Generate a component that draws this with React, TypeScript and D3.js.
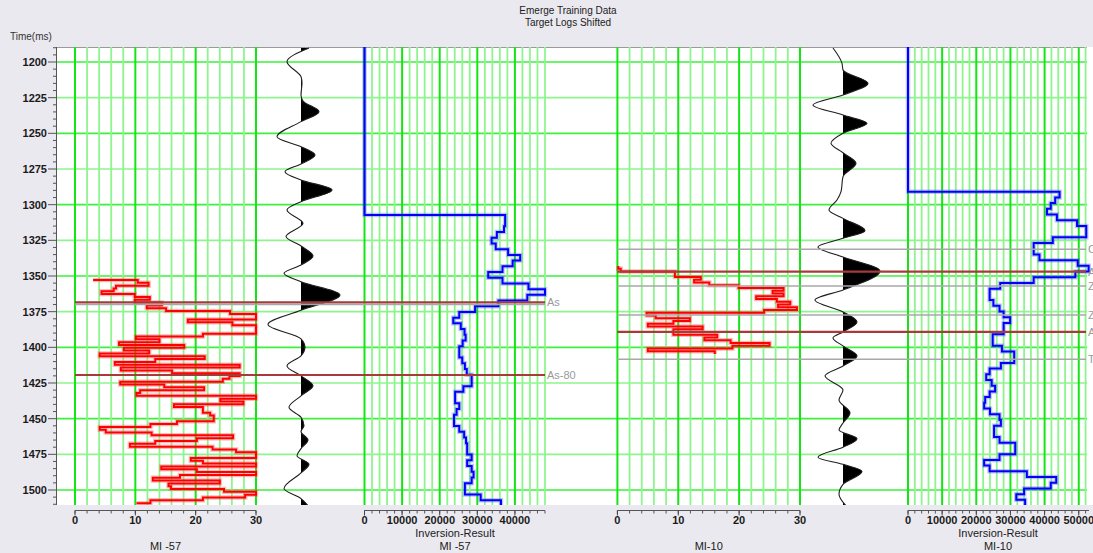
import * as d3 from 'd3';

const W = 1093;
const H = 553;
const FONT = "'Liberation Sans', Arial, sans-serif";

const TITLE_LINES = ['Emerge Training Data', 'Target Logs Shifted'];
const TIME_TICKS = [1200, 1225, 1250, 1275, 1300, 1325, 1350, 1375, 1400, 1425, 1450, 1475, 1500];
const LOG_TICKS = [0, 10, 20, 30];
const INV57_TICKS = [0, 10000, 20000, 30000, 40000];
const INV10_TICKS = [0, 10000, 20000, 30000, 40000, 50000];

// MI -57 log (2 ms samples), first/last values are the entry/exit jumps
const LOG57_START = 1352.8;
const LOG57_DT = 1.98;
const LOG57_ENTRY = 3.0;
const LOG57_EXIT = 10.2;
const LOG57 = [
  10.4, 12.2, 6.8, 6.4, 4.4, 9.9, 12.4, 9.9, 14.4, 11.9, 15.1, 25.7, 30, 30, 18.7, 26.1, 30, 30, 30,
  21.2, 10.1, 14.0, 7.3, 18.1, 8.1, 12.3, 4.1, 21.5, 13.3, 6.6, 27.3, 7.6, 16.1, 27.3, 25.6, 24.5,
  7.5, 14.8, 21.4, 10.8, 10.2, 30, 24.1, 27.9, 16.4, 21.2, 21.2, 22.4, 23.0, 23.0, 16.9, 12.5, 4.1,
  5.1, 12.7, 26.2, 20.2, 13.3, 9.1, 22.8, 26.7, 30, 30, 19.2, 21.2, 30, 14.3, 20.2, 30, 17.4, 12.9,
  24.0, 15.5, 15.9, 24.7, 30, 28.2, 21.2, 12.5,
];

// MI-10 log
const LOG10_START = 1343.0;
const LOG10_DT = 1.93;
const LOG10 = [
  0.15, 0.55, 9.45, 9.45, 13.7, 12.6, 15.1, 19.9, 27.3, 25.5, 27.3, 22.8, 26.2, 28.4, 26.4, 29.5,
  24.1, 4.8, 6.3, 11.9, 9.2, 5.0, 14.0, 9.2, 9.2, 16.4, 14.3, 18.6, 25.0, 18.9, 5.0, 16.0,
];

// Inversion results (thousands), 4 ms samples, zero above the start
const INV57_START = 1307.2;
const INV10_START = 1290.9;
const INV_DT = 4;
const INV57 = [
  37.4, 37.4, 37.1, 35.2, 33.8, 34.9, 38.2, 41.4, 39.4, 36.7, 32.9, 36.7, 43.6, 48.0, 43.3, 35.6,
  29.4, 25.2, 23.6, 25.6, 26.6, 26.9, 26.1, 25.2, 25.2, 26.0, 26.7, 27.2, 28.5, 28.5, 26.3, 24.1,
  24.1, 25.2, 24.5, 23.8, 23.8, 25.2, 26.5, 27.0, 27.3, 27.3, 28.5, 27.3, 28.5, 29.0, 28.5, 26.7,
  26.7, 30.9, 36.3,
];
const INV10 = [
  44.4, 43.1, 41.8, 40.7, 43.6, 49.5, 52.2, 52.2, 42.4, 36.8, 36.8, 38.5, 49.7, 52.9, 49.0, 36.8,
  27.0, 23.9, 23.9, 25.0, 26.8, 28.0, 29.9, 28.0, 28.0, 24.8, 24.8, 27.5, 31.1, 31.1, 27.2, 23.9,
  22.9, 24.5, 25.5, 23.9, 22.6, 22.3, 24.0, 26.8, 27.2, 25.2, 25.2, 26.8, 31.4, 31.4, 26.8, 22.3,
  23.9, 34.8, 43.4, 41.8, 34.0, 31.7, 34.3,
];

// seismic traces: time (ms) / amplitude
const TRACE57_T = [
  1190.2, 1199.8, 1210.3, 1214.7, 1223.1, 1227.3, 1234.8, 1241.8, 1252.4, 1259.4, 1265.2, 1271.5,
  1276.9, 1282.7, 1289.7, 1297.9, 1303.7, 1313.1, 1322.4, 1329, 1336, 1342.3, 1348.1, 1354, 1363.3,
  1374, 1384, 1394, 1400, 1406, 1413, 1420, 1427, 1434, 1442, 1449, 1455, 1459, 1465, 1471, 1476,
  1482, 1488, 1499, 1506, 1511,
];
const TRACE57_A = [
  8, -14, 0, 1, 0, 2, 18, 0, -24, 0, 14, 0, -16, 0, 31, 0, -14, 2, -15, 0, 12, 0, -17, 0, 39, 0, -33,
  0, 4, 0, -14, 0, 12, 0, -12, 0, 3, 0, 7, 0, -4, 8, 0, -17, 0, 7,
];
const TRACE10_T = [
  1190.2, 1200.9, 1205.6, 1214.9, 1223.1, 1230.1, 1237.1, 1243, 1250, 1257, 1263.6, 1271, 1280.4,
  1290.9, 1296.7, 1303.7, 1309.6, 1318.2, 1323.6, 1329.7, 1336.7, 1346.5, 1359.8, 1366.8, 1375.2,
  1382.2, 1389.2, 1393.4, 1399, 1406, 1413.1, 1420, 1429.9, 1437, 1446, 1453, 1458, 1464, 1470,
  1477, 1482, 1487, 1496, 1503, 1511,
];
const TRACE10_A = [
  -10, -1, 0, 25, 0, -30, 0, 24, 0, -12, 0, 13, 0, -2, -6, -14, 0, 22, 0, -25, 0, 37, 0, -28, 0, 14,
  0, -10, 0, 14, 0, -18, 0, -4, 7, 0, -4, 14, 0, -25, 0, 19, 0, -4, 3,
];

// horizons
const HOR57_NAMES = ['As', '', 'As-80'];
const HOR57_T = [1368.5, 1369.9, 1419.4];
const HOR57_KIND = ['red', 'gray', 'red'];
const HOR10_NAMES = ['C', 'A', 'Z', 'Z', 'A', 'T'];
const HOR10_T = [1331.3, 1347.0, 1357.0, 1377.3, 1389.2, 1408.4];
const HOR10_KIND = ['gray', 'red', 'gray', 'gray', 'red', 'gray'];

const PLOT = { left: 57, right: 1087, top: 47, bottom: 505 };
const y = d3.scaleLinear().domain([1200, 1500]).range([62, 490]);
const tTop = y.invert(PLOT.top);

const xLog57 = d3.scaleLinear().domain([0, 30]).range([75, 256]);
const xSeis57 = d3.scaleLinear().domain([-40, 40]).range([261, 341]);
const xInv57 = d3.scaleLinear().domain([0, 48]).range([364.5, 545]);
const xLog10 = d3.scaleLinear().domain([0, 30]).range([617.4, 800]);
const xSeis10 = d3.scaleLinear().domain([-40, 40]).range([803, 883]);
const xInv10 = d3.scaleLinear().domain([0, 53]).range([908, 1089]);

const stepLine = (xs: d3.ScaleLinear<number, number>) =>
  d3.line<[number, number]>().x((d) => xs(d[0])).y((d) => y(d[1])).curve(d3.curveStepBefore);

function samples(vals: number[], start: number, dt: number): [number, number][] {
  const pts: [number, number][] = vals.map((v, i) => [v, start + i * dt]);
  pts.push([vals[vals.length - 1], start + vals.length * dt]);
  return pts;
}

function VGrid({ xs, max, minor, major }: { xs: d3.ScaleLinear<number, number>; max: number; minor: number; major: number }) {
  return (
    <g>
      {d3.range(0, max + 1e-6, minor).map((v) => {
        const isMajor = Math.abs(v % major) < 1e-6;
        return (
          <line key={v} x1={xs(v)} x2={xs(v)} y1={PLOT.top} y2={PLOT.bottom}
            stroke={isMajor ? '#14e614' : '#8ef58e'} strokeWidth={isMajor ? 2 : 1.8} />
        );
      })}
    </g>
  );
}

function BottomAxis({ xs, ticks, minor, unit, lines, cx }:
  { xs: d3.ScaleLinear<number, number>; ticks: number[]; minor: number; unit: number; lines: string[]; cx: number }) {
  const [d0, d1] = xs.domain();
  const ay = 510.5;
  return (
    <g fontFamily={FONT} fill="#1a1a1a">
      <line x1={xs(d0)} x2={xs(d1)} y1={ay} y2={ay} stroke="#555" strokeWidth={1} />
      {d3.range(d0, d1 + 1e-6, minor).map((v) => (
        <line key={v} x1={xs(v)} x2={xs(v)} y1={ay} y2={ay + 3} stroke="#555" />
      ))}
      {ticks.map((t) => (
        <g key={t}>
          <line x1={xs(t / unit)} x2={xs(t / unit)} y1={ay} y2={ay + 5} stroke="#444" />
          <text x={xs(t / unit)} y={524} textAnchor="middle" fontSize={11} fontWeight="bold">{t}</text>
        </g>
      ))}
      {lines.map((s, i) => (
        <text key={i} x={cx} y={lines.length === 2 ? 536.5 + i * 13 : 549.5} textAnchor="middle" fontSize={11}>{s}</text>
      ))}
    </g>
  );
}

function Trace({ xs, times, amps, id }: { xs: d3.ScaleLinear<number, number>; times: number[]; amps: number[]; id: string }) {
  const pts: [number, number][] = times.map((t, i) => [t, amps[i]]);
  const line = d3.line<[number, number]>().x((d) => xs(d[1])).y((d) => y(d[0])).curve(d3.curveMonotoneY);
  const area = d3.area<[number, number]>().y((d) => y(d[0])).x0(xs(0)).x1((d) => xs(d[1])).curve(d3.curveMonotoneY);
  return (
    <g>
      <clipPath id={id}>
        <rect x={xs(0)} y={PLOT.top} width={80} height={PLOT.bottom - PLOT.top} />
      </clipPath>
      <path d={area(pts)!} fill="#000" clipPath={`url(#${id})`} />
      <path d={line(pts)!} fill="none" stroke="#1e1e1e" strokeWidth={1.1} />
    </g>
  );
}

function StepCurve({ d, color, halo }: { d: string; color: string; halo: string }) {
  return (
    <g fill="none" strokeLinejoin="miter">
      <path d={d} stroke={halo} strokeWidth={4.5} />
      <path d={d} stroke={color} strokeWidth={2} />
    </g>
  );
}

function Horizons({ names, times, kinds, x0, x1 }: { names: string[]; times: number[]; kinds: string[]; x0: number; x1: number }) {
  return (
    <g>
      {times.map((t, i) => (
        <line key={i} x1={x0} x2={x1} y1={y(t)} y2={y(t)}
          stroke={kinds[i] === 'red' ? '#a83a3a' : '#a8a8a8'} strokeWidth={kinds[i] === 'red' ? 2.2 : 1.6} />
      ))}
      {names.map((n, i) => n && (
        <text key={`l${i}`} x={x1 + 2} y={y(times[i]) + 4} fontSize={11} fontFamily={FONT} fill="#9a9a9a">{n}</text>
      ))}
    </g>
  );
}

export default function App() {
  const log57 = stepLine(xLog57)([[LOG57_ENTRY, LOG57_START], ...samples(LOG57, LOG57_START, LOG57_DT),
    [LOG57_EXIT, LOG57_START + LOG57.length * LOG57_DT]])!;
  const log10 = stepLine(xLog10)(samples(LOG10, LOG10_START, LOG10_DT))!;
  const inv57 = stepLine(xInv57)([[0, tTop], ...samples(INV57, INV57_START, INV_DT)])!;
  const inv10 = stepLine(xInv10)([[0, tTop], ...samples(INV10, INV10_START, INV_DT)])!;

  const minorTimes = d3.range(1190, 1511, 5);

  return (
    <svg width={W} height={H} style={{ position: 'absolute', left: 0, top: 0 }} fontFamily={FONT}>
      <defs>
        <clipPath id="plotclip">
          <rect x={PLOT.left} y={PLOT.top} width={W - PLOT.left} height={PLOT.bottom - PLOT.top} />
        </clipPath>
      </defs>
      <rect width={W} height={H} fill="#eae9ef" />
      <rect x={PLOT.left} y={PLOT.top} width={W - PLOT.left} height={PLOT.bottom - PLOT.top} fill="#fff" />
      <line x1={PLOT.left} x2={PLOT.right} y1={PLOT.top + 0.5} y2={PLOT.top + 0.5} stroke="#9a9a9a" />

      {TITLE_LINES.map((s, i) => (
        <text key={s} x={568} y={14 + i * 12} textAnchor="middle" fontSize={10} fill="#222">{s}</text>
      ))}
      <text x={10} y={40} fontSize={10} fill="#333">Time(ms)</text>

      {/* grids */}
      <g>
        {TIME_TICKS.map((t) => (
          <line key={t} x1={PLOT.left} x2={PLOT.right} y1={y(t)} y2={y(t)}
            stroke={t % 50 === 0 ? '#3cf03c' : '#8ef58e'} strokeWidth={1.6} />
        ))}
      </g>
      <VGrid xs={xLog57} max={30} minor={2} major={10} />
      <VGrid xs={xInv57} max={48} minor={2} major={10} />
      <VGrid xs={xLog10} max={30} minor={2} major={10} />
      <VGrid xs={xInv10} max={52} minor={2} major={10} />

      <g clipPath="url(#plotclip)">
        <Trace xs={xSeis57} times={TRACE57_T} amps={TRACE57_A} id="tr57" />
        <Trace xs={xSeis10} times={TRACE10_T} amps={TRACE10_A} id="tr10" />
        <StepCurve d={log57} color="#ff0000" halo="rgba(255,60,60,0.35)" />
        <StepCurve d={log10} color="#ff0000" halo="rgba(255,60,60,0.35)" />
        <StepCurve d={inv57} color="#0000ff" halo="rgba(60,60,255,0.3)" />
        <StepCurve d={inv10} color="#0000ff" halo="rgba(60,60,255,0.3)" />
      </g>

      <Horizons names={HOR57_NAMES} times={HOR57_T} kinds={HOR57_KIND} x0={xLog57(0)} x1={xInv57(48)} />
      <Horizons names={HOR10_NAMES} times={HOR10_T} kinds={HOR10_KIND} x0={xLog10(0)} x1={PLOT.right - 1} />

      {/* time axis */}
      <g>
        <line x1={PLOT.left - 0.5} x2={PLOT.left - 0.5} y1={PLOT.top} y2={PLOT.bottom} stroke="#555" />
        {minorTimes.map((t) => (
          <line key={t} x1={PLOT.left - (t % 25 === 0 ? 9 : 4)} x2={PLOT.left} y1={y(t)} y2={y(t)} stroke="#555" />
        ))}
        {TIME_TICKS.map((t) => (
          <text key={t} x={PLOT.left - 10} y={y(t) + 4} textAnchor="end" fontSize={11} fontWeight="bold" fill="#1a1a1a">{t}</text>
        ))}
      </g>

      <BottomAxis xs={xLog57} ticks={LOG_TICKS} minor={2} unit={1} lines={['MI -57']} cx={xLog57(15)} />
      <BottomAxis xs={xInv57} ticks={INV57_TICKS} minor={2} unit={1000} lines={['Inversion-Result', 'MI -57']} cx={455} />
      <BottomAxis xs={xLog10} ticks={LOG_TICKS} minor={2} unit={1} lines={['MI-10']} cx={xLog10(15)} />
      <BottomAxis xs={xInv10} ticks={INV10_TICKS} minor={2} unit={1000} lines={['Inversion-Result', 'MI-10']} cx={998} />
    </svg>
  );
}
